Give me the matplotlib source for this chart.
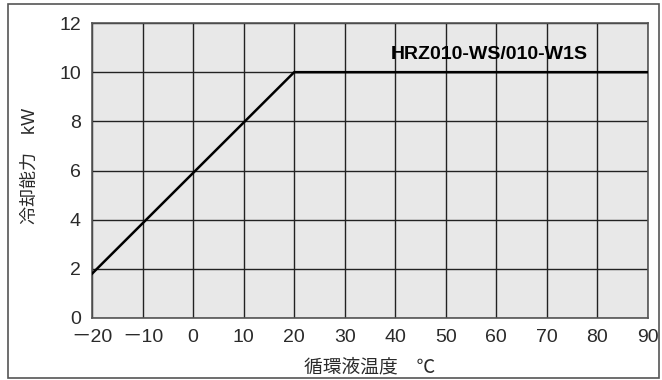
import matplotlib
matplotlib.use("Agg")
import matplotlib.pyplot as plt
from matplotlib.patches import Rectangle

plt.rcParams["font.family"] = ["Liberation Sans", "Noto Sans CJK JP", "DejaVu Sans"]

temp_c = [-20, 20, 90]
capacity_kw = [1.8, 10, 10]
x_ticks = list(range(-20, 91, 10))
y_ticks = list(range(0, 13, 2))
x_tick_labels = [f"\uff0d{abs(t)}" if t < 0 else str(t) for t in x_ticks]
model_label = "HRZ010-WS/010-W1S"

fig = plt.figure(figsize=(6.62, 3.80), dpi=100)
fig.patches.append(Rectangle((8 / 662, 0.005), 651 / 662, 0.985, transform=fig.transFigure,
                             fill=False, edgecolor="#555555", linewidth=1.2))
ax = fig.add_axes([92 / 662, 1 - 318 / 380, 556 / 662, 295 / 380])
ax.set_facecolor("#e8e8e8")
ax.set_xlim(-20, 90)
ax.set_ylim(0, 12)
ax.set_xticks(x_ticks)
ax.set_xticklabels(x_tick_labels)
ax.set_yticks(y_ticks)
ax.tick_params(length=0, labelsize=14, colors="#2a2a2a")
ax.tick_params(axis="x", pad=8)
ax.tick_params(axis="y", pad=8)
ax.grid(True, color="#222222", linewidth=1.0)
ax.set_axisbelow(True)
for s in ax.spines.values():
    s.set_color("#555555")
    s.set_linewidth(1.2)

ax.plot(temp_c, capacity_kw, color="black", linewidth=1.8, zorder=3)
ax.text(58.5, 10.7, model_label, ha="center", va="center", fontsize=14, fontweight="bold", zorder=4)

ax.set_xlabel("循環液温度　℃", fontsize=13.5, labelpad=9, color="#2a2a2a")
ax.set_ylabel("冷却能力　kW", fontsize=13, color="#2a2a2a", va="center")
ax.yaxis.set_label_coords(-0.111, 0.515)

fig.savefig("out.png", dpi=100)
